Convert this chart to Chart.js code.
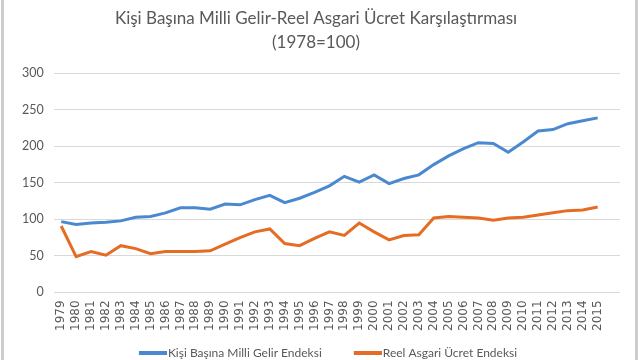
<!DOCTYPE html>
<html>
<head>
<meta charset="utf-8">
<script src="https://cdn.jsdelivr.net/npm/chart.js@4/dist/chart.umd.min.js"></script>
<style>
  html, body { margin: 0; padding: 0; background: #fff; }
  #wrap { position: relative; width: 640px; height: 360px; }
  #frame { position: absolute; left: 1px; top: 0; width: 631px; height: 360px;
    border-left: 3px solid #cdcdcd; border-right: 3px solid #cdcdcd; pointer-events: none; }
</style>
</head>
<body>
<div id="wrap">
  <canvas id="chart" width="640" height="360"></canvas>
  <div id="frame"></div>
</div>
<script>
// years on the x axis (Excel left one empty slot after 2015)
const years = ['1979', '1980', '1981', '1982', '1983', '1984', '1985', '1986', '1987', '1988',
  '1989', '1990', '1991', '1992', '1993', '1994', '1995', '1996', '1997', '1998',
  '1999', '2000', '2001', '2002', '2003', '2004', '2005', '2006', '2007', '2008',
  '2009', '2010', '2011', '2012', '2013', '2014', '2015', ''];

// Kişi Başına Milli Gelir Endeksi
const incomeIndex = [97, 93, 95, 96, 98, 103, 104, 109, 116, 116,
  114, 121, 120, 127, 133, 123, 129, 137, 146, 159,
  151, 161, 149, 156, 161, 175, 187, 197, 205, 204,
  192, 206, 221, 223, 231, 235, 239, null];

// Reel Asgari Ücret Endeksi
const wageIndex = [91, 49, 56, 51, 64, 60, 53, 56, 56, 56,
  57, 66, 75, 83, 87, 67, 64, 74, 83, 78,
  95, 83, 72, 78, 79, 102, 104, 103, 102, 99,
  102, 103, 106, 109, 112, 113, 117, null];

const yTicks = [0, 50, 100, 150, 200, 250, 300];

const textColor = '#595959';
const gridColor = '#d9d9d9';
const blue = '#4a89d0';
const orange = '#e56c23';

// legend swatch: a short thick line that sits right against the label text
function legendLine(color) {
  const c = document.createElement('canvas');
  c.width = 57;
  c.height = 4;
  const g = c.getContext('2d');
  g.fillStyle = color;
  g.fillRect(29, 0, 28, 4);
  return c;
}

document.addEventListener('DOMContentLoaded', () => {
  const ctx = document.getElementById('chart').getContext('2d');
  Chart.defaults.font.family = 'Lato, "Open Sans", sans-serif';
  Chart.defaults.color = textColor;

  new Chart(ctx, {
    type: 'line',
    data: {
      labels: years,
      datasets: [
        {
          label: 'Kişi Başına Milli Gelir Endeksi',
          data: incomeIndex,
          borderColor: blue,
          backgroundColor: blue,
          borderWidth: 3,
          pointRadius: 0,
          pointStyle: legendLine(blue),
          tension: 0,
        },
        {
          label: 'Reel Asgari Ücret Endeksi',
          data: wageIndex,
          borderColor: orange,
          backgroundColor: orange,
          borderWidth: 3,
          pointRadius: 0,
          pointStyle: legendLine(orange),
          tension: 0,
        },
      ],
    },
    options: {
      responsive: false,
      animation: false,
      layout: { padding: { left: 12, right: 20, top: 4, bottom: -9 } },
      scales: {
        x: {
          offset: true,
          grid: { display: false, drawTicks: false },
          border: { display: false },
          ticks: {
            autoSkip: false,
            maxRotation: 90,
            minRotation: 90,
            padding: 8,
            font: { family: '"DejaVu Sans", sans-serif', size: 12 },
          },
          // keep the rotated first label from pushing the plot to the right
          afterFit: (scale) => {
            scale.paddingLeft = 0;
            scale.paddingRight = 0;
          },
        },
        y: {
          min: 0,
          max: 300,
          afterBuildTicks: (axis) => {
            axis.ticks = yTicks.map((v) => ({ value: v }));
          },
          grid: { color: gridColor, lineWidth: 1, drawTicks: false },
          border: { display: false },
          ticks: { padding: 10, font: { size: 12.5 } },
        },
      },
      plugins: {
        title: {
          display: true,
          text: ['Kişi Başına Milli Gelir-Reel Asgari Ücret Karşılaştırması', '(1978=100)'],
          color: textColor,
          font: { size: 17, weight: 'normal', lineHeight: 1.45 },
          padding: { top: 2, bottom: 18 },
        },
        legend: {
          position: 'bottom',
          labels: {
            usePointStyle: true,
            pointStyleWidth: 47,
            padding: 8,
            font: { size: 12 },
            color: textColor,
          },
        },
        tooltip: { enabled: false },
      },
    },
  });
});
</script>
</body>
</html>
